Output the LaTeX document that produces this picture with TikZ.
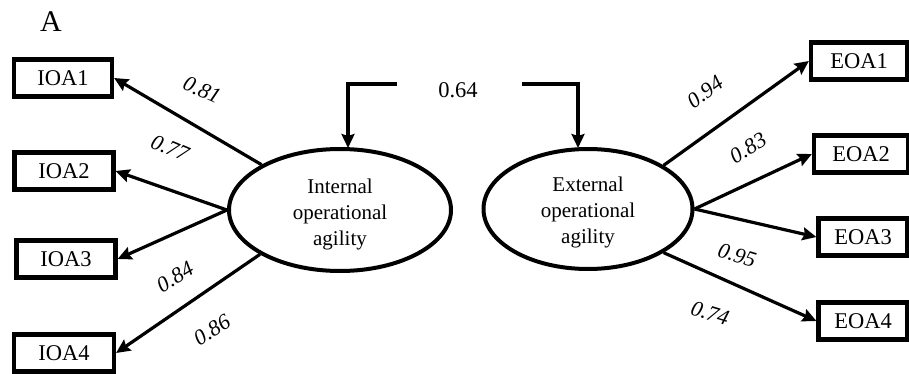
\documentclass[tikz,border=0pt]{standalone}
\usepackage{fontspec}
\setmainfont{Liberation Serif}
\usetikzlibrary{arrows.meta,shapes.geometric}
\begin{document}
\begin{tikzpicture}[x=1pt,y=-1pt,
  box/.style={draw,line width=4.2pt,minimum height=37pt,inner sep=0pt,font=\fontsize{22.5}{26}\selectfont},
  lat/.style={draw,ellipse,line width=4pt,inner sep=0pt},
  lattext/.style={align=center,inner sep=0pt,font=\fontsize{21}{26}\selectfont},
  arr/.style={line width=3.2pt,-{Stealth[length=14pt,width=13pt,inset=2pt]}},
  coef/.style={font=\fontsize{22}{24}\selectfont\itshape,inner sep=0pt},
  plain/.style={font=\fontsize{22.5}{26}\selectfont,inner sep=0pt}]
\useasboundingbox (0,0) rectangle (909,374);
\node[plain,font=\fontsize{30}{32}\selectfont] (lblA) at (51,22) {A};
% indicator boxes
\node[box,minimum width=98pt] (ioa1) at (63,78) {IOA1};
\node[box,minimum width=99pt] (ioa2) at (64,171) {IOA2};
\node[box,minimum width=99pt] (ioa3) at (66,259) {IOA3};
\node[box,minimum width=100pt] (ioa4) at (64,353) {IOA4};
\node[box,minimum width=96pt] (eoa1) at (859,61) {EOA1};
\node[box,minimum width=94pt] (eoa2) at (861,154) {EOA2};
\node[box,minimum width=89pt] (eoa3) at (863,237) {EOA3};
\node[box,minimum width=89pt] (eoa4) at (863,321) {EOA4};
% latent variables
\node[lat,minimum width=222pt,minimum height=122pt] (int) at (340,210) {};
\node[lat,minimum width=209pt,minimum height=120pt] (ext) at (588,209) {};
\node[lattext] (intlab) at (340,214) {Internal\\operational\\agility};
\node[lattext] (extlab) at (588,212) {External\\operational\\agility};
% loadings
\draw[arr] (int.150) -- (ioa1.east);
\draw[arr] (int.180) -- (ioa2.east);
\draw[arr] (int.180) -- (ioa3.east);
\draw[arr] (int.209) -- (ioa4.east);
\draw[arr] (ext.30) -- (eoa1.west);
\draw[arr] (ext.0) -- (eoa2.west);
\draw[arr] (ext.0) -- (eoa3.west);
\draw[arr] (ext.-30) -- (eoa4.west);
\node[coef,rotate=-24] (c81) at (202,90) {0.81};
\node[coef,rotate=-23] (c77) at (170,148) {0.77};
\node[coef,rotate=31] (c84) at (175,277) {0.84};
\node[coef,rotate=32] (c86) at (212,330) {0.86};
\node[coef,rotate=36] (c94) at (705,92) {0.94};
\node[coef,rotate=31] (c83) at (748,148) {0.83};
\node[coef,rotate=-17] (c95) at (737,255) {0.95};
\node[coef,rotate=-17] (c74) at (710,313) {0.74};
% correlation
\node[plain] (c64) at (458,90) {0.64};
\coordinate (bl) at (397,84);
\coordinate (br) at (522,84);
\coordinate (tl) at (348,148);
\coordinate (tr) at (578,148);
\draw[arr] (bl) -| (tl);
\draw[arr] (br) -| (tr);
\end{tikzpicture}
\end{document}
